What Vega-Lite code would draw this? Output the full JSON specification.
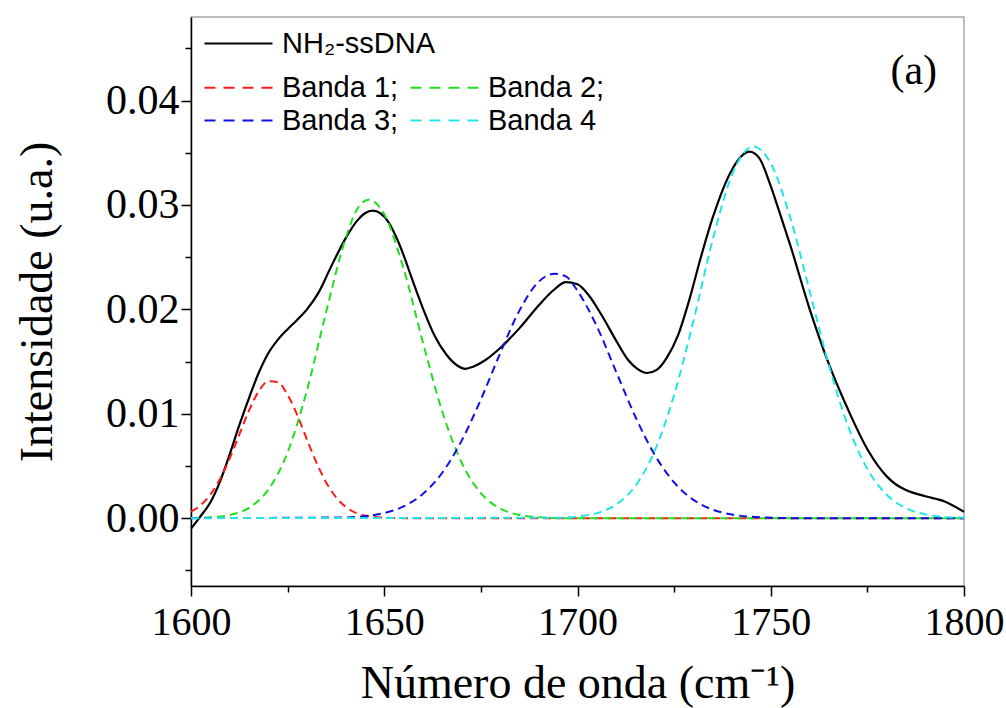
{
  "$schema": "https://vega.github.io/schema/vega-lite/v6.json",
  "width": 773,
  "height": 569,
  "autosize": {"type": "none"},
  "padding": {"left": 191, "top": 17, "right": 42, "bottom": 122},
  "background": "white",
  "datasets": {
    "black": [
      {"x": 1600, "y": -0.0010, "s": "NH₂-ssDNA"},
      {"x": 1602.5, "y": 0.0002, "s": "NH₂-ssDNA"},
      {"x": 1605, "y": 0.0015, "s": "NH₂-ssDNA"},
      {"x": 1607.5, "y": 0.0035, "s": "NH₂-ssDNA"},
      {"x": 1610, "y": 0.0061, "s": "NH₂-ssDNA"},
      {"x": 1612.5, "y": 0.0089, "s": "NH₂-ssDNA"},
      {"x": 1615, "y": 0.0115, "s": "NH₂-ssDNA"},
      {"x": 1617.5, "y": 0.0139, "s": "NH₂-ssDNA"},
      {"x": 1620, "y": 0.0158, "s": "NH₂-ssDNA"},
      {"x": 1622.5, "y": 0.0171, "s": "NH₂-ssDNA"},
      {"x": 1625, "y": 0.0181, "s": "NH₂-ssDNA"},
      {"x": 1627.5, "y": 0.0190, "s": "NH₂-ssDNA"},
      {"x": 1630, "y": 0.0200, "s": "NH₂-ssDNA"},
      {"x": 1633, "y": 0.0216, "s": "NH₂-ssDNA"},
      {"x": 1636, "y": 0.0239, "s": "NH₂-ssDNA"},
      {"x": 1640, "y": 0.0268, "s": "NH₂-ssDNA"},
      {"x": 1643, "y": 0.0285, "s": "NH₂-ssDNA"},
      {"x": 1645, "y": 0.0292, "s": "NH₂-ssDNA"},
      {"x": 1647, "y": 0.02945, "s": "NH₂-ssDNA"},
      {"x": 1649, "y": 0.0292, "s": "NH₂-ssDNA"},
      {"x": 1651, "y": 0.0284, "s": "NH₂-ssDNA"},
      {"x": 1653, "y": 0.0270, "s": "NH₂-ssDNA"},
      {"x": 1655, "y": 0.0252, "s": "NH₂-ssDNA"},
      {"x": 1657, "y": 0.0231, "s": "NH₂-ssDNA"},
      {"x": 1660, "y": 0.0201, "s": "NH₂-ssDNA"},
      {"x": 1663, "y": 0.0175, "s": "NH₂-ssDNA"},
      {"x": 1666, "y": 0.0157, "s": "NH₂-ssDNA"},
      {"x": 1669, "y": 0.0146, "s": "NH₂-ssDNA"},
      {"x": 1671, "y": 0.0143, "s": "NH₂-ssDNA"},
      {"x": 1673, "y": 0.0145, "s": "NH₂-ssDNA"},
      {"x": 1676, "y": 0.0151, "s": "NH₂-ssDNA"},
      {"x": 1680, "y": 0.0163, "s": "NH₂-ssDNA"},
      {"x": 1685, "y": 0.0182, "s": "NH₂-ssDNA"},
      {"x": 1690, "y": 0.0204, "s": "NH₂-ssDNA"},
      {"x": 1694, "y": 0.0219, "s": "NH₂-ssDNA"},
      {"x": 1697, "y": 0.0226, "s": "NH₂-ssDNA"},
      {"x": 1700, "y": 0.0224, "s": "NH₂-ssDNA"},
      {"x": 1703, "y": 0.0213, "s": "NH₂-ssDNA"},
      {"x": 1706, "y": 0.0196, "s": "NH₂-ssDNA"},
      {"x": 1710, "y": 0.0170, "s": "NH₂-ssDNA"},
      {"x": 1713, "y": 0.0152, "s": "NH₂-ssDNA"},
      {"x": 1715.5, "y": 0.0143, "s": "NH₂-ssDNA"},
      {"x": 1718, "y": 0.0139, "s": "NH₂-ssDNA"},
      {"x": 1720.5, "y": 0.0142, "s": "NH₂-ssDNA"},
      {"x": 1723, "y": 0.0153, "s": "NH₂-ssDNA"},
      {"x": 1726, "y": 0.0175, "s": "NH₂-ssDNA"},
      {"x": 1729, "y": 0.0210, "s": "NH₂-ssDNA"},
      {"x": 1731.7, "y": 0.0247, "s": "NH₂-ssDNA"},
      {"x": 1735, "y": 0.0288, "s": "NH₂-ssDNA"},
      {"x": 1740, "y": 0.0334, "s": "NH₂-ssDNA"},
      {"x": 1742.5, "y": 0.0347, "s": "NH₂-ssDNA"},
      {"x": 1744.5, "y": 0.0351, "s": "NH₂-ssDNA"},
      {"x": 1747, "y": 0.0345, "s": "NH₂-ssDNA"},
      {"x": 1750, "y": 0.0318, "s": "NH₂-ssDNA"},
      {"x": 1752, "y": 0.0296, "s": "NH₂-ssDNA"},
      {"x": 1755, "y": 0.0262, "s": "NH₂-ssDNA"},
      {"x": 1760, "y": 0.0201, "s": "NH₂-ssDNA"},
      {"x": 1765, "y": 0.0148, "s": "NH₂-ssDNA"},
      {"x": 1770, "y": 0.0104, "s": "NH₂-ssDNA"},
      {"x": 1775, "y": 0.0066, "s": "NH₂-ssDNA"},
      {"x": 1780, "y": 0.0040, "s": "NH₂-ssDNA"},
      {"x": 1782.5, "y": 0.0032, "s": "NH₂-ssDNA"},
      {"x": 1785, "y": 0.0027, "s": "NH₂-ssDNA"},
      {"x": 1790, "y": 0.0021, "s": "NH₂-ssDNA"},
      {"x": 1795, "y": 0.0016, "s": "NH₂-ssDNA"},
      {"x": 1800, "y": 0.0006, "s": "NH₂-ssDNA"}
    ],
    "bands": [
      {"x": 1600, "y": 0.00062, "s": "Banda 1;"},
      {"x": 1602.5, "y": 0.00124, "s": "Banda 1;"},
      {"x": 1605, "y": 0.00224, "s": "Banda 1;"},
      {"x": 1607.5, "y": 0.00374, "s": "Banda 1;"},
      {"x": 1610, "y": 0.00571, "s": "Banda 1;"},
      {"x": 1612.5, "y": 0.0080, "s": "Banda 1;"},
      {"x": 1615, "y": 0.0103, "s": "Banda 1;"},
      {"x": 1617.5, "y": 0.01213, "s": "Banda 1;"},
      {"x": 1620, "y": 0.01311, "s": "Banda 1;"},
      {"x": 1622.5, "y": 0.0130, "s": "Banda 1;"},
      {"x": 1625, "y": 0.01181, "s": "Banda 1;"},
      {"x": 1627.5, "y": 0.00986, "s": "Banda 1;"},
      {"x": 1630, "y": 0.00753, "s": "Banda 1;"},
      {"x": 1632.5, "y": 0.00529, "s": "Banda 1;"},
      {"x": 1635, "y": 0.0034, "s": "Banda 1;"},
      {"x": 1637.5, "y": 0.00201, "s": "Banda 1;"},
      {"x": 1640, "y": 0.00109, "s": "Banda 1;"},
      {"x": 1645, "y": 0.00025, "s": "Banda 1;"},
      {"x": 1650, "y": 0.00004, "s": "Banda 1;"},
      {"x": 1655, "y": 0, "s": "Banda 1;"},
      {"x": 1800, "y": 0, "s": "Banda 1;"},
      {"x": 1600, "y": 0.00002, "s": "Banda 2;"},
      {"x": 1605, "y": 0.00008, "s": "Banda 2;"},
      {"x": 1610, "y": 0.0003, "s": "Banda 2;"},
      {"x": 1615, "y": 0.00099, "s": "Banda 2;"},
      {"x": 1620, "y": 0.00273, "s": "Banda 2;"},
      {"x": 1625, "y": 0.00631, "s": "Banda 2;"},
      {"x": 1630, "y": 0.01223, "s": "Banda 2;"},
      {"x": 1635, "y": 0.0198, "s": "Banda 2;"},
      {"x": 1640, "y": 0.0268, "s": "Banda 2;"},
      {"x": 1643, "y": 0.0296, "s": "Banda 2;"},
      {"x": 1646, "y": 0.0305, "s": "Banda 2;"},
      {"x": 1650, "y": 0.0291, "s": "Banda 2;"},
      {"x": 1655, "y": 0.0239, "s": "Banda 2;"},
      {"x": 1660, "y": 0.01684, "s": "Banda 2;"},
      {"x": 1665, "y": 0.01022, "s": "Banda 2;"},
      {"x": 1670, "y": 0.00533, "s": "Banda 2;"},
      {"x": 1675, "y": 0.00239, "s": "Banda 2;"},
      {"x": 1680, "y": 0.00092, "s": "Banda 2;"},
      {"x": 1685, "y": 0.0003, "s": "Banda 2;"},
      {"x": 1690, "y": 0.00009, "s": "Banda 2;"},
      {"x": 1695, "y": 0, "s": "Banda 2;"},
      {"x": 1800, "y": 0, "s": "Banda 2;"},
      {"x": 1600, "y": 0, "s": "Banda 3;"},
      {"x": 1640, "y": 0.00007, "s": "Banda 3;"},
      {"x": 1645, "y": 0.00019, "s": "Banda 3;"},
      {"x": 1650, "y": 0.00049, "s": "Banda 3;"},
      {"x": 1655, "y": 0.00112, "s": "Banda 3;"},
      {"x": 1660, "y": 0.00232, "s": "Banda 3;"},
      {"x": 1665, "y": 0.00435, "s": "Banda 3;"},
      {"x": 1670, "y": 0.0074, "s": "Banda 3;"},
      {"x": 1675, "y": 0.01137, "s": "Banda 3;"},
      {"x": 1680, "y": 0.0158, "s": "Banda 3;"},
      {"x": 1685, "y": 0.0199, "s": "Banda 3;"},
      {"x": 1690, "y": 0.02266, "s": "Banda 3;"},
      {"x": 1694, "y": 0.0234, "s": "Banda 3;"},
      {"x": 1697, "y": 0.02315, "s": "Banda 3;"},
      {"x": 1700, "y": 0.02177, "s": "Banda 3;"},
      {"x": 1705, "y": 0.01837, "s": "Banda 3;"},
      {"x": 1710, "y": 0.01402, "s": "Banda 3;"},
      {"x": 1715, "y": 0.00969, "s": "Banda 3;"},
      {"x": 1720, "y": 0.00605, "s": "Banda 3;"},
      {"x": 1725, "y": 0.00342, "s": "Banda 3;"},
      {"x": 1730, "y": 0.00175, "s": "Banda 3;"},
      {"x": 1735, "y": 0.00081, "s": "Banda 3;"},
      {"x": 1740, "y": 0.00034, "s": "Banda 3;"},
      {"x": 1745, "y": 0.00013, "s": "Banda 3;"},
      {"x": 1750, "y": 0.00004, "s": "Banda 3;"},
      {"x": 1755, "y": 0, "s": "Banda 3;"},
      {"x": 1800, "y": 0, "s": "Banda 3;"},
      {"x": 1600, "y": 0, "s": "Banda 4"},
      {"x": 1695, "y": 0.00004, "s": "Banda 4"},
      {"x": 1700, "y": 0.00016, "s": "Banda 4"},
      {"x": 1705, "y": 0.00048, "s": "Banda 4"},
      {"x": 1710, "y": 0.0013, "s": "Banda 4"},
      {"x": 1715, "y": 0.0031, "s": "Banda 4"},
      {"x": 1720, "y": 0.00646, "s": "Banda 4"},
      {"x": 1725, "y": 0.0118, "s": "Banda 4"},
      {"x": 1730, "y": 0.0189, "s": "Banda 4"},
      {"x": 1735, "y": 0.0267, "s": "Banda 4"},
      {"x": 1740, "y": 0.0329, "s": "Banda 4"},
      {"x": 1745.5, "y": 0.0356, "s": "Banda 4"},
      {"x": 1750, "y": 0.03397, "s": "Banda 4"},
      {"x": 1755, "y": 0.02886, "s": "Banda 4"},
      {"x": 1760, "y": 0.02183, "s": "Banda 4"},
      {"x": 1765, "y": 0.0147, "s": "Banda 4"},
      {"x": 1770, "y": 0.00882, "s": "Banda 4"},
      {"x": 1775, "y": 0.0047, "s": "Banda 4"},
      {"x": 1780, "y": 0.00224, "s": "Banda 4"},
      {"x": 1785, "y": 0.00095, "s": "Banda 4"},
      {"x": 1790, "y": 0.00036, "s": "Banda 4"},
      {"x": 1795, "y": 0.00012, "s": "Banda 4"},
      {"x": 1800, "y": 0.00004, "s": "Banda 4"}
    ],
    "tag": [
      {"x": 1787, "y": 0.0428, "t": "(a)"}
    ]
  },
  "encoding": {
    "x": {
      "field": "x",
      "type": "quantitative",
      "scale": {"domain": [1600, 1800], "nice": false, "zero": false},
      "axis": {
        "title": "Número de onda (cm⁻¹)",
        "values": [1600, 1625, 1650, 1675, 1700, 1725, 1750, 1775, 1800],
        "labelExpr": "datum.value % 50 == 0 ? format(datum.value, 'd') : ''",
        "tickSize": {"condition": {"test": "datum.value % 50 == 0", "value": 10}, "value": 6},
        "labelFontSize": 40,
        "labelPadding": 6,
        "labelFlush": false,
        "labelOverlap": false,
        "titlePadding": 19
      }
    },
    "y": {
      "field": "y",
      "type": "quantitative",
      "scale": {"domain": [-0.0065, 0.048], "nice": false, "zero": false},
      "axis": {
        "title": "Intensidade (u.a.)",
        "values": [-0.005, 0, 0.005, 0.01, 0.015, 0.02, 0.025, 0.03, 0.035, 0.04, 0.045],
        "labelExpr": "round(datum.value * 1000) % 10 == 0 ? format(datum.value, '.2f') : ''",
        "tickSize": {"condition": {"test": "round(datum.value * 1000) % 10 == 0", "value": 10}, "value": 6},
        "labelFontSize": 42,
        "labelPadding": 2,
        "labelFlush": false,
        "labelOverlap": false,
        "titlePadding": 44
      }
    }
  },
  "layer": [
    {
      "data": {"name": "black"},
      "mark": {"type": "line", "strokeWidth": 2.2, "interpolate": "monotone"},
      "encoding": {
        "color": {
          "field": "s",
          "type": "nominal",
          "scale": {"domain": ["NH₂-ssDNA"], "range": ["#000000"]},
          "legend": {
            "title": null,
            "orient": "none",
            "legendX": 14,
            "legendY": 12,
            "padding": 0,
            "symbolType": "M-1.5,0H5.3",
            "symbolSize": 400,
            "symbolStrokeWidth": 2.2,
            "labelOffset": 48,
            "labelFont": "Liberation Sans",
            "labelFontSize": 29,
            "labelColor": "#000000"
          }
        }
      }
    },
    {
      "data": {"name": "bands"},
      "mark": {"type": "line", "strokeWidth": 2, "strokeDash": [8, 5], "interpolate": "monotone"},
      "encoding": {
        "color": {
          "field": "s",
          "type": "nominal",
          "scale": {"domain": ["Banda 1;", "Banda 2;", "Banda 3;", "Banda 4"], "range": ["#ff1a1a", "#22dd22", "#1010e6", "#22e6e6"]},
          "legend": {
            "title": null,
            "orient": "none",
            "legendX": 14,
            "legendY": 56,
            "padding": 0,
            "direction": "horizontal",
            "columns": 2,
            "columnPadding": 7,
            "rowPadding": 3,
            "symbolType": "M-1.5,0H5.3",
            "symbolSize": 400,
            "symbolStrokeWidth": 2,
            "symbolDash": [11, 8],
            "labelOffset": 48,
            "labelFont": "Liberation Sans",
            "labelFontSize": 29,
            "labelColor": "#000000"
          }
        }
      }
    },
    {
      "data": {"name": "tag"},
      "mark": {"type": "text", "font": "Liberation Serif", "fontSize": 42, "color": "#000000", "align": "center", "baseline": "middle"},
      "encoding": {"text": {"field": "t", "type": "nominal"}}
    }
  ],
  "resolve": {"scale": {"color": "independent"}},
  "config": {
    "view": {"stroke": "#a6a6a6", "strokeWidth": 1.5},
    "axis": {
      "grid": false,
      "domainColor": "#000000",
      "domainWidth": 1.5,
      "tickColor": "#000000",
      "tickWidth": 1.5,
      "labelFont": "Liberation Serif",
      "labelColor": "#000000",
      "titleFont": "Liberation Serif",
      "titleFontSize": 46,
      "titleFontWeight": "normal",
      "titleColor": "#000000"
    }
  }
}
